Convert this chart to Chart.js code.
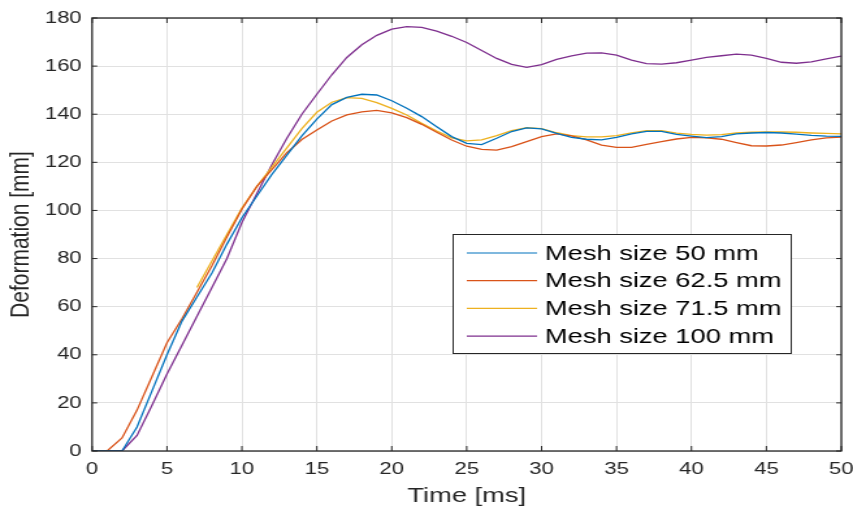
<!DOCTYPE html>
<html>
<head>
<meta charset="utf-8">
<script src="https://cdn.jsdelivr.net/npm/chart.js@4.4.1/dist/chart.umd.min.js"></script>
<style>
  html, body { margin: 0; padding: 0; background: #fff; }
  #chart { display: block; }
</style>
</head>
<body>
<canvas id="chart" width="656" height="511" style="width:853px;height:511px"></canvas>
<script>
// time axis (ms) and deformation series (mm)
const timeMs = [0,1,2,3,4,5,6,7,8,9,10,11,12,13,14,15,16,17,18,19,20,21,22,23,24,25,
  26,27,28,29,30,31,32,33,34,35,36,37,38,39,40,41,42,43,44,45,46,47,48,49,50];

const mesh50 = [0,0,0,10,25,40,54,64,74,86,
  97,106,115,123,131,138,144,147,148.3,148,
  145.6,142.5,139,134.8,130.7,127.9,127.4,130,132.8,134.3,
  133.9,132,130.4,129.6,129.3,130.4,131.8,132.9,132.9,131.6,
  130.9,130.3,130.7,131.8,132.2,132.4,132.2,131.7,131.2,130.9,
  130.8];

const mesh62 = [0,0,5.4,17,31,45,55,66,77,89,
  100.5,110,117,124,129.5,133.4,137.2,139.7,141,141.6,
  140.6,138.6,135.8,132.5,129.3,126.7,125.4,125.1,126.5,128.6,
  130.7,131.8,131,129.3,127.2,126.2,126.2,127.5,128.6,129.7,
  130.4,130.2,129.6,128.2,126.9,126.8,127.2,128.2,129.3,130.2,
  130.5];

// this run only starts at 7 ms
const mesh71 = [null,null,null,null,null,null,null,68,79,90,
  101,110,118,126,134,140.8,145,146.9,146.6,144.8,
  142.4,139.7,136.2,133,130.2,128.9,129.3,131.1,133.2,134.4,
  134,132.3,131.1,130.6,130.6,131.1,132.2,133.2,133.2,132.1,
  131.6,131.3,131.5,132.2,132.5,132.6,132.6,132.5,132.2,132,
  131.8];

const mesh100 = [0,0,0,6.5,19,32,44,56,68,80,
  95,107,119,130,140,148.3,156.4,163.6,168.9,172.8,
  175.4,176.4,176.1,174.5,172.4,169.8,166.5,163.2,160.7,159.5,
  160.6,162.8,164.3,165.4,165.5,164.6,162.5,161,160.8,161.4,
  162.5,163.6,164.3,165,164.6,163.2,161.6,161.2,161.8,163,
  164.2];

const seriesLabels = ['Mesh size 50 mm', 'Mesh size 62.5 mm', 'Mesh size 71.5 mm', 'Mesh size 100 mm'];
const seriesColors = ['#0072BD', '#D95319', '#EDB120', '#7E2F8E'];
const xTicks = [0,5,10,15,20,25,30,35,40,45,50];
const yTicks = [0,20,40,60,80,100,120,140,160,180];

const FONT = '"Liberation Sans", Arial, Helvetica, sans-serif';
const AXIS = '#262626';

const toPoints = vals => timeMs.map((t, i) => ({ x: t, y: vals[i] })).filter(p => p.y !== null);

// MATLAB style: box round the axes, ticks pointing inwards, legend inside
const matlabAxes = {
  id: 'matlabAxes',
  afterDatasetsDraw(chart) {
    const ctx = chart.ctx;
    const a = chart.chartArea;
    const xs = chart.scales.x, ys = chart.scales.y;
    ctx.save();
    ctx.strokeStyle = AXIS;
    ctx.lineWidth = 1.3;
    ctx.strokeRect(a.left, a.top, a.right - a.left, a.bottom - a.top);
    ctx.lineWidth = 1;
    ctx.beginPath();
    xTicks.forEach(v => {
      const px = xs.getPixelForValue(v);
      ctx.moveTo(px, a.bottom); ctx.lineTo(px, a.bottom - 5);
      ctx.moveTo(px, a.top); ctx.lineTo(px, a.top + 5);
    });
    yTicks.forEach(v => {
      const py = ys.getPixelForValue(v);
      ctx.moveTo(a.left, py); ctx.lineTo(a.left + 4, py);
      ctx.moveTo(a.right, py); ctx.lineTo(a.right - 4, py);
    });
    ctx.stroke();
    ctx.restore();
  },
  afterDraw(chart) {
    const ctx = chart.ctx;
    const left = 348, top = 234, w = 260, h = 119;
    ctx.save();
    ctx.fillStyle = '#fff';
    ctx.fillRect(left, top, w, h);
    ctx.strokeStyle = AXIS;
    ctx.lineWidth = 1;
    ctx.strokeRect(left + 0.5, top + 0.5, w, h);
    ctx.font = '21px ' + FONT;
    ctx.textBaseline = 'middle';
    ctx.fillStyle = '#000';
    chart.data.datasets.forEach((ds, i) => {
      const y = top + 19 + i * 27.7;
      ctx.strokeStyle = ds.borderColor;
      ctx.lineWidth = 1.2;
      ctx.beginPath();
      ctx.moveTo(left + 11, y);
      ctx.lineTo(left + 65, y);
      ctx.stroke();
      ctx.fillText(ds.label, left + 71, y + 1);
    });
    ctx.restore();
  }
};

new Chart(document.getElementById('chart'), {
  type: 'line',
  data: {
    datasets: [mesh50, mesh62, mesh71, mesh100].map((vals, i) => ({
      label: seriesLabels[i],
      data: toPoints(vals),
      borderColor: seriesColors[i],
      backgroundColor: seriesColors[i],
      borderWidth: 1.3,
      pointRadius: 0,
      tension: 0,
      fill: false
    }))
  },
  options: {
    responsive: false,
    animation: false,
    devicePixelRatio: 1,
    layout: { padding: { left: 0, right: 9, top: 18, bottom: 0 } },
    plugins: {
      legend: { display: false },
      tooltip: { enabled: false }
    },
    scales: {
      x: {
        type: 'linear',
        min: 0,
        max: 50,
        afterBuildTicks: s => { s.ticks = xTicks.map(v => ({ value: v })); },
        afterFit: s => { s.height = 60; s.paddingLeft = 0; s.paddingRight = 0; },
        grid: { color: '#e1e1e1', lineWidth: 1, drawTicks: false },
        border: { display: false },
        ticks: { padding: 8, color: AXIS, font: { family: FONT, size: 17 }, maxRotation: 0 },
        title: {
          display: true,
          text: 'Time [ms]',
          color: AXIS,
          font: { family: FONT, size: 21 },
          padding: { top: 0, bottom: 2 }
        }
      },
      y: {
        min: 0,
        max: 180,
        afterBuildTicks: s => { s.ticks = yTicks.map(v => ({ value: v })); },
        afterFit: s => { s.width = 70.8; s.paddingTop = 0; s.paddingBottom = 0; },
        grid: { color: '#e1e1e1', lineWidth: 1, drawTicks: false },
        border: { display: false },
        ticks: { padding: 8, color: AXIS, font: { family: FONT, size: 17 } },
        title: {
          display: true,
          text: 'Deformation [mm]',
          color: AXIS,
          font: { family: FONT, size: 21 },
          padding: { top: 4, bottom: 0 }
        }
      }
    }
  },
  plugins: [matlabAxes]
});
</script>
</body>
</html>
